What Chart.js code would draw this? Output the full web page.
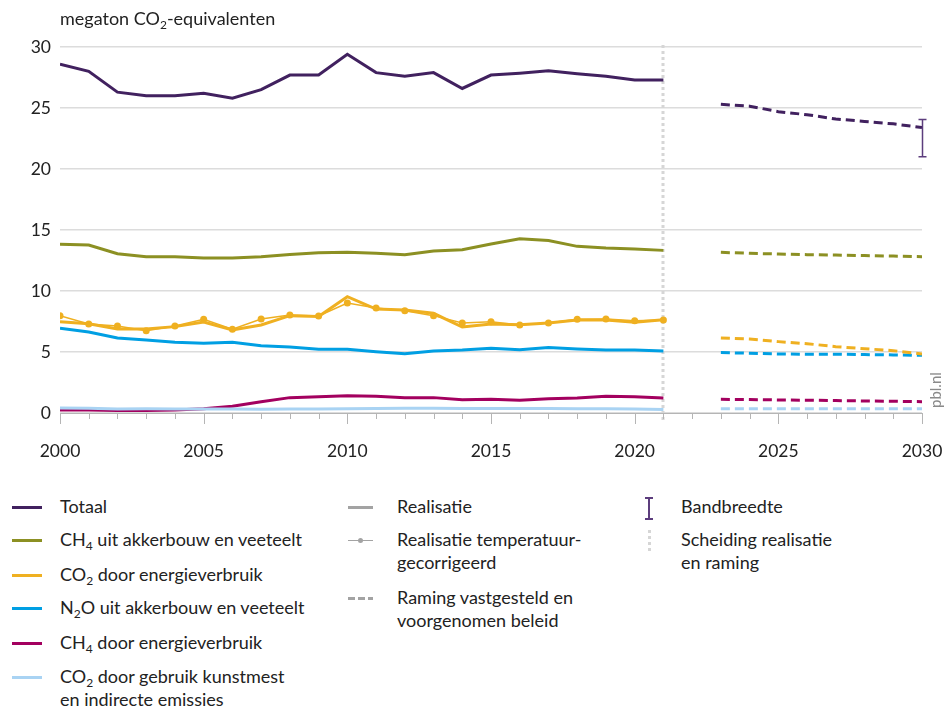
<!DOCTYPE html>
<html>
<head>
<meta charset="utf-8">
<script src="https://cdn.jsdelivr.net/npm/chart.js@4.4.1/dist/chart.umd.min.js"></script>
<style>
  body { margin: 0; background: #fff; font-family: Lato, sans-serif; color: #222; }
  #wrap { position: relative; width: 946px; height: 707px; }
  #chart { position: absolute; left: 0; top: 0; }
  .title { position: absolute; left: 60px; top: 7px; font-size: 18px; }
  .lg { position: absolute; font-size: 18px; line-height: 23px; }
  .sw { position: absolute; }
  sub { font-size: 12px; vertical-align: -4px; line-height: 0; }
</style>
</head>
<body>
<div id="wrap">
  <canvas id="chart" width="946" height="470"></canvas>
  <div class="title">megaton CO<sub>2</sub>-equivalenten</div>
  <div id="legend"></div>
</div>
<script>
// realisatie en raming, megaton CO2-eq
const yearsReal = [2000, 2001, 2002, 2003, 2004, 2005, 2006, 2007, 2008, 2009, 2010,
  2011, 2012, 2013, 2014, 2015, 2016, 2017, 2018, 2019, 2020, 2021];
const yearsProj = [2023, 2024, 2025, 2026, 2027, 2028, 2029, 2030];

const totaal = [28.6, 28.0, 26.3, 26.0, 26.0, 26.2, 25.8, 26.5, 27.7, 27.7, 29.4,
  27.9, 27.6, 27.9, 26.6, 27.7, 27.85, 28.05, 27.8, 27.6, 27.3, 27.3];
const totaalProj = [25.3, 25.15, 24.7, 24.45, 24.1, 23.9, 23.7, 23.4];

const ch4Akker = [13.83, 13.77, 13.06, 12.8, 12.8, 12.7, 12.7, 12.8, 13.0, 13.14, 13.17,
  13.09, 12.98, 13.28, 13.39, 13.85, 14.29, 14.13, 13.66, 13.52, 13.44, 13.33];
const ch4AkkerProj = [13.17, 13.09, 13.03, 12.98, 12.95, 12.9, 12.86, 12.81];

const co2Energie = [7.48, 7.32, 6.88, 6.88, 7.08, 7.46, 6.8, 7.21, 7.98, 7.92, 9.53,
  8.52, 8.44, 8.17, 7.05, 7.3, 7.24, 7.38, 7.62, 7.62, 7.43, 7.65];
const co2EnergieTc = [7.98, 7.3, 7.13, 6.75, 7.13, 7.68, 6.86, 7.7, 8.03, 7.95, 9.02,
  8.6, 8.39, 7.98, 7.38, 7.48, 7.21, 7.38, 7.68, 7.7, 7.57, 7.62];
const co2EnergieProj = [6.15, 6.07, 5.85, 5.68, 5.44, 5.27, 5.11, 4.84];

const n2oAkker = [6.94, 6.64, 6.15, 5.98, 5.79, 5.71, 5.79, 5.52, 5.41, 5.22, 5.22,
  5.03, 4.86, 5.08, 5.16, 5.3, 5.19, 5.36, 5.25, 5.16, 5.16, 5.08];
const n2oAkkerProj = [4.95, 4.9, 4.84, 4.82, 4.82, 4.79, 4.76, 4.73];

const ch4Energie = [0.25, 0.25, 0.2, 0.2, 0.25, 0.35, 0.55, 0.93, 1.26, 1.34, 1.42,
  1.37, 1.26, 1.26, 1.09, 1.12, 1.04, 1.17, 1.23, 1.37, 1.34, 1.23];
const ch4EnergieProj = [1.12, 1.1, 1.07, 1.05, 1.02, 0.99, 0.96, 0.93];

const kunstmest = [0.4, 0.38, 0.32, 0.35, 0.33, 0.32, 0.32, 0.3, 0.32, 0.33, 0.35,
  0.36, 0.38, 0.38, 0.37, 0.37, 0.36, 0.36, 0.35, 0.34, 0.33, 0.28];
const kunstmestProj = [0.35, 0.35, 0.35, 0.35, 0.35, 0.35, 0.35, 0.35];

const bandYear = 2030;
const bandbreedte = [21.0, 24.05];
const splitYear = 2021;

const C = {
  totaal: '#41215f',
  ch4Akker: '#8c9023',
  co2Energie: '#efb021',
  n2o: '#009fe3',
  ch4Energie: '#a3005f',
  kunstmest: '#a9d3f3',
  grey: '#a3a3a3'
};

const pts = (xs, ys) => xs.map((x, i) => ({ x, y: ys[i] }));

function line(data, color, dashed) {
  return {
    data, borderColor: color, borderWidth: 3, pointRadius: 0, tension: 0,
    borderDash: dashed ? [9, 5] : [], fill: false
  };
}

const datasets = [
  line(pts(yearsReal, totaal), C.totaal),
  line(pts(yearsProj, totaalProj), C.totaal, true),
  line(pts(yearsReal, co2Energie), C.co2Energie),
  { data: pts(yearsReal, co2EnergieTc), borderColor: C.co2Energie, borderWidth: 1.5,
    pointRadius: 3.5, pointBackgroundColor: C.co2Energie, pointBorderWidth: 0 },
  line(pts(yearsProj, co2EnergieProj), C.co2Energie, true),
  line(pts(yearsReal, ch4Akker), C.ch4Akker),
  line(pts(yearsProj, ch4AkkerProj), C.ch4Akker, true),
  line(pts(yearsReal, n2oAkker), C.n2o),
  line(pts(yearsProj, n2oAkkerProj), C.n2o, true),
  line(pts(yearsReal, kunstmest), C.kunstmest),
  line(pts(yearsProj, kunstmestProj), C.kunstmest, true),
  line(pts(yearsReal, ch4Energie), C.ch4Energie),
  line(pts(yearsProj, ch4EnergieProj), C.ch4Energie, true)
];

// separator, year ticks, band, source
const extras = {
  id: 'extras',
  beforeDatasetsDraw(chart) {
    const { ctx, scales: { x, y } } = chart;
    const px = Math.round(x.getPixelForValue(splitYear));
    ctx.save();
    ctx.strokeStyle = '#d6d6d6';
    ctx.lineWidth = 3;
    ctx.setLineDash([3, 3]);
    ctx.beginPath();
    ctx.moveTo(px, chart.chartArea.top - 2);
    ctx.lineTo(px, y.getPixelForValue(0) + 8);
    ctx.stroke();
    ctx.restore();
  },
  afterDatasetsDraw(chart) {
    const { ctx, scales: { x, y } } = chart;
    const y0 = y.getPixelForValue(0);
    ctx.save();
    ctx.strokeStyle = '#b5b5b5';
    ctx.lineWidth = 1;
    ctx.beginPath();
    ctx.moveTo(x.left, y0 + 0.5);
    ctx.lineTo(x.right, y0 + 0.5);
    for (let yr = x.min; yr <= x.max; yr++) {
      const px = Math.round(x.getPixelForValue(yr)) + 0.5;
      ctx.moveTo(px, y0);
      ctx.lineTo(px, y0 + (yr % 5 === 0 ? 11 : 6));
    }
    ctx.stroke();

    // bandbreedte
    const bx = Math.round(x.getPixelForValue(bandYear)) + 0.5;
    const b1 = y.getPixelForValue(bandbreedte[0]);
    const b2 = y.getPixelForValue(bandbreedte[1]);
    ctx.strokeStyle = '#5c3d7d';
    ctx.lineWidth = 1.5;
    ctx.beginPath();
    ctx.moveTo(bx, b1); ctx.lineTo(bx, b2);
    ctx.moveTo(bx - 4, b1); ctx.lineTo(bx + 4, b1);
    ctx.moveTo(bx - 4, b2); ctx.lineTo(bx + 4, b2);
    ctx.stroke();

    ctx.translate(x.right + 14, y0 - 5);
    ctx.rotate(-Math.PI / 2);
    ctx.fillStyle = '#8a8a8a';
    ctx.font = '15px Lato';
    ctx.textAlign = 'left';
    ctx.textBaseline = 'middle';
    ctx.fillText('pbl.nl', 0, 0);
    ctx.restore();
  }
};

new Chart(document.getElementById('chart'), {
  type: 'line',
  data: { datasets },
  options: {
    responsive: false,
    animation: false,
    layout: { padding: { top: 47, right: 24, left: 0, bottom: 0 } },
    plugins: { legend: { display: false }, tooltip: { enabled: false } },
    scales: {
      x: {
        type: 'linear', min: 2000, max: 2030,
        afterFit: (s) => { s.height = 57; s.paddingLeft = 0; s.paddingRight = 0; },
        grid: { display: false },
        border: { display: false },
        ticks: {
          stepSize: 5, padding: 20, color: '#222', font: { family: 'Lato', size: 17.5 },
          callback: (v) => String(v), maxRotation: 0
        }
      },
      y: {
        min: 0, max: 30,
        afterFit: (s) => { s.width = 60; s.paddingTop = 0; s.paddingBottom = 0; },
        grid: { color: '#dcdcdc', lineWidth: 1.5, drawTicks: false },
        border: { display: false },
        ticks: { stepSize: 5, padding: 9, color: '#222', font: { family: 'Lato', size: 17.5 } }
      }
    }
  },
  plugins: [extras]
});

// legend
const leftItems = [
  { y: 507, color: C.totaal, html: 'Totaal' },
  { y: 540, color: C.ch4Akker, html: 'CH<sub>4</sub> uit akkerbouw en veeteelt' },
  { y: 575, color: C.co2Energie, html: 'CO<sub>2</sub> door energieverbruik' },
  { y: 608, color: C.n2o, html: 'N<sub>2</sub>O uit akkerbouw en veeteelt' },
  { y: 643, color: C.ch4Energie, html: 'CH<sub>4</sub> door energieverbruik' },
  { y: 677, color: C.kunstmest, html: 'CO<sub>2</sub> door gebruik kunstmest<br>en indirecte emissies' }
];
const lg = document.getElementById('legend');
let h = '';
leftItems.forEach((it) => {
  h += `<div class="sw" style="left:12px;top:${it.y - 1}px;width:30px;height:3px;background:${it.color}"></div>`;
  h += `<div class="lg" style="left:60px;top:${it.y - 12}px">${it.html}</div>`;
});
// column 2
h += `<div class="sw" style="left:348px;top:506px;width:25px;height:3px;background:${C.grey}"></div>`;
h += `<div class="lg" style="left:397px;top:495px">Realisatie</div>`;
h += `<div class="sw" style="left:348px;top:540px;width:25px;height:1px;background:${C.grey}"></div>`;
h += `<div class="sw" style="left:358px;top:538px;width:5px;height:5px;border-radius:50%;background:${C.grey}"></div>`;
h += `<div class="lg" style="left:397px;top:528px">Realisatie temperatuur-<br>gecorrigeerd</div>`;
h += `<div class="sw" style="left:348px;top:597px;width:25px;height:3px;background:repeating-linear-gradient(90deg, ${C.grey} 0 7px, transparent 7px 10px)"></div>`;
h += `<div class="lg" style="left:397px;top:586px">Raming vastgesteld en<br>voorgenomen beleid</div>`;
// column 3
h += `<div class="sw" style="left:648px;top:497px;width:1.5px;height:22px;background:#5c3d7d"></div>`;
h += `<div class="sw" style="left:645px;top:497px;width:8px;height:1.5px;background:#5c3d7d"></div>`;
h += `<div class="sw" style="left:645px;top:518px;width:8px;height:1.5px;background:#5c3d7d"></div>`;
h += `<div class="lg" style="left:681px;top:495px">Bandbreedte</div>`;
h += `<div class="sw" style="left:648px;top:530px;width:3px;height:24px;background:repeating-linear-gradient(180deg, #d6d6d6 0 3px, transparent 3px 6px)"></div>`;
h += `<div class="lg" style="left:681px;top:528px">Scheiding realisatie<br>en raming</div>`;
lg.innerHTML = h;
</script>
</body>
</html>
